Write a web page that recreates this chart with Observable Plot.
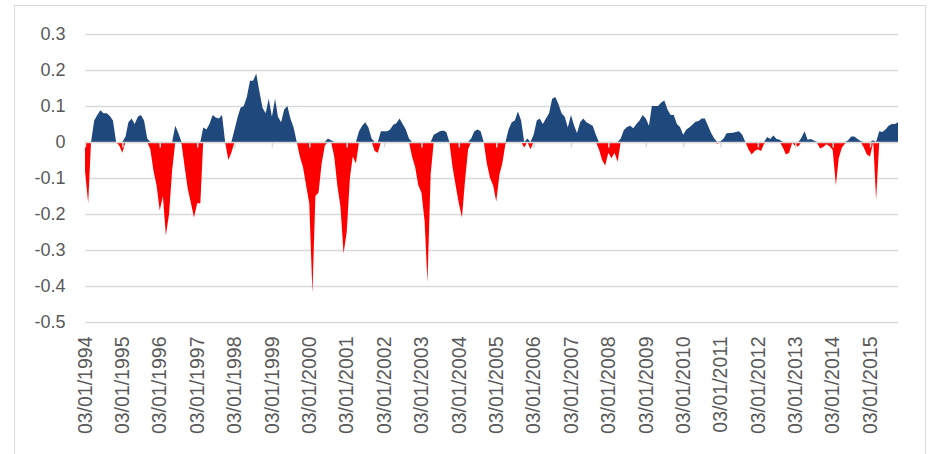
<!DOCTYPE html>
<html><head><meta charset="utf-8">
<script src="https://cdn.jsdelivr.net/npm/d3@7"></script>
<script src="https://cdn.jsdelivr.net/npm/@observablehq/plot@0.6"></script>
<style>
html,body{margin:0;padding:0;background:#fff;}
#wrap{position:relative;width:937px;height:454px;overflow:hidden;background:#fff;}
#border{position:absolute;left:14px;top:5px;width:912px;height:480px;border:1.5px solid #d9d9d9;box-sizing:border-box;}
#chart{position:absolute;left:0;top:0;}
</style></head><body>
<div id="wrap"><div id="border"></div><div id="chart"></div></div>
<script>
// Monthly values (one value per month, Jan..Dec)
const v1994 = [-0.08, -0.17, 0.0, 0.06, 0.075, 0.088, 0.08, 0.08, 0.072, 0.06, 0.0, -0.01];
const v1995 = [-0.03, 0.015, 0.055, 0.065, 0.05, 0.07, 0.075, 0.06, 0.01, -0.02, -0.08, -0.12];
const v1996 = [-0.19, -0.15, -0.26, -0.2, -0.08, 0.045, 0.025, -0.005, -0.07, -0.13, -0.17, -0.21];
const v1997 = [-0.17, -0.17, 0.04, 0.035, 0.05, 0.075, 0.068, 0.065, 0.075, 0.0, -0.05, -0.03];
const v1998 = [0.035, 0.07, 0.095, 0.1, 0.125, 0.17, 0.17, 0.19, 0.14, 0.095, 0.08, 0.12];
const v1999 = [0.07, 0.12, 0.07, 0.055, 0.09, 0.1, 0.065, 0.04, 0.0, -0.04, -0.07, -0.12];
const v2000 = [-0.17, -0.42, -0.15, -0.14, -0.06, -0.01, 0.01, 0.005, -0.04, -0.12, -0.18, -0.31];
const v2001 = [-0.25, -0.1, -0.04, -0.06, 0.03, 0.045, 0.055, 0.04, 0.01, -0.025, -0.03, 0.03];
const v2002 = [0.03, 0.03, 0.035, 0.048, 0.052, 0.065, 0.05, 0.035, 0.01, -0.04, -0.07, -0.12];
const v2003 = [-0.14, -0.22, -0.39, -0.09, 0.02, 0.025, 0.03, 0.032, 0.028, 0.0, -0.07, -0.12];
const v2004 = [-0.17, -0.21, -0.11, -0.02, 0.01, 0.03, 0.035, 0.03, 0.0, -0.06, -0.1, -0.12];
const v2005 = [-0.165, -0.09, -0.06, -0.005, 0.035, 0.055, 0.06, 0.085, 0.06, -0.015, 0.01, -0.02];
const v2006 = [0.02, 0.06, 0.065, 0.05, 0.065, 0.08, 0.12, 0.125, 0.105, 0.08, 0.07, 0.04];
const v2007 = [0.075, 0.045, 0.025, 0.055, 0.065, 0.055, 0.05, 0.045, 0.02, -0.02, -0.05, -0.065];
const v2008 = [-0.03, -0.045, -0.03, -0.055, 0.01, 0.033, 0.042, 0.045, 0.038, 0.05, 0.06, 0.075];
const v2009 = [0.065, 0.045, 0.1, 0.1, 0.1, 0.11, 0.115, 0.09, 0.075, 0.075, 0.05, 0.042];
const v2010 = [0.02, 0.035, 0.04, 0.048, 0.056, 0.058, 0.065, 0.065, 0.045, 0.025, 0.01, -0.005];
const v2011 = [0.002, 0.01, 0.024, 0.025, 0.026, 0.028, 0.03, 0.02, 0.0, -0.02, -0.035, -0.025];
const v2012 = [-0.02, -0.025, -0.005, 0.014, 0.008, 0.018, 0.008, 0.006, -0.015, -0.035, -0.03, -0.002];
const v2013 = [-0.012, -0.012, 0.012, 0.03, 0.006, 0.008, 0.004, -0.003, -0.018, -0.014, -0.006, -0.012];
const v2014 = [-0.022, -0.12, -0.045, -0.015, -0.005, 0.005, 0.015, 0.015, 0.008, 0.003, -0.015, -0.035];
const v2015 = [-0.04, 0.005, -0.16, 0.03, 0.028, 0.035, 0.045, 0.05, 0.05, 0.055];

const years = [1994,1995,1996,1997,1998,1999,2000,2001,2002,2003,2004,2005,2006,2007,2008,2009,2010,2011,2012,2013,2014,2015];
const yearValues = [v1994,v1995,v1996,v1997,v1998,v1999,v2000,v2001,v2002,v2003,v2004,v2005,v2006,v2007,v2008,v2009,v2010,v2011,v2012,v2013,v2014,v2015];

const tickLabels = ["03/01/1994","03/01/1995","03/01/1996","03/01/1997","03/01/1998","03/01/1999","03/01/2000","03/01/2001","03/01/2002","03/01/2003","03/01/2004","03/01/2005","03/01/2006","03/01/2007","03/01/2008","03/01/2009","03/01/2010","03/01/2011","03/01/2012","03/01/2013","03/01/2014","03/01/2015"];
const yTicks = [0.3, 0.2, 0.1, 0, -0.1, -0.2, -0.3, -0.4, -0.5];

const data = [];
years.forEach((yr, k) => yearValues[k].forEach((v, i) => data.push({date: new Date(yr, i, 3), v})));

const parse = d3.timeParse("%d/%m/%Y");
const fmt = d3.timeFormat("%d/%m/%Y");
const tickDates = tickLabels.map(parse);

const chart = Plot.plot({
  width: 937, height: 454,
  marginLeft: 85, marginRight: 39, marginTop: 34, marginBottom: 132,
  style: {fontFamily: "'Liberation Sans', Arial, sans-serif", background: "transparent", overflow: "visible"},
  x: {type: "time", domain: [data[0].date, data[data.length - 1].date]},
  y: {domain: [-0.5, 0.3]},
  marks: [
    Plot.ruleY(yTicks, {stroke: "#d9d9d9", strokeWidth: 1.3}),
    Plot.areaY(data, {x: "date", y: d => Math.max(d.v, 0), fill: "#1F497D"}),
    Plot.areaY(data, {x: "date", y: d => Math.min(d.v, 0), fill: "#FF0000"}),
    Plot.ruleY([0], {stroke: "#d9d9d9", strokeWidth: 1.5}),
    Plot.ruleX(tickDates, {x: d => d, y1: 0, y2: -0.015, stroke: "#d9d9d9", strokeWidth: 1.5}),
    Plot.axisY(yTicks, {tickSize: 0, tickPadding: 20, tickFormat: d => String(+d.toFixed(1)), fontSize: 18, fill: "#595959"}),
    Plot.axisX(tickDates, {tickSize: 0, tickRotate: -90, tickPadding: 14, tickFormat: d => fmt(d), fontSize: 19.5, fill: "#595959"})
  ]
});
document.getElementById("chart").appendChild(chart);
</script>
</body></html>
